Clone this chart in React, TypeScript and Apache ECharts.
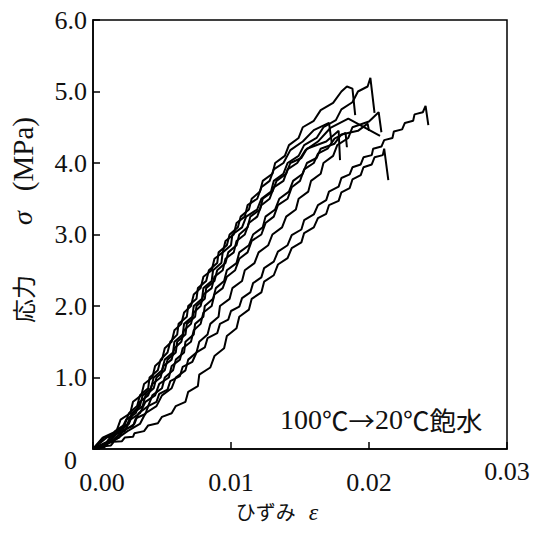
import React, { useEffect, useRef } from 'react';
import * as echarts from 'echarts';

// Tick labels
const xTickLabels = ['0.00', '0.01', '0.02', '0.03'];
const yTickLabels = ['0', '1.0', '2.0', '3.0', '4.0', '5.0', '6.0'];
const xAxisTitle = 'ひずみ';
const xAxisSymbol = 'ε';
const yAxisTitle = '応力';
const yAxisSymbol = 'σ';
const yAxisUnit = '(MPa)';
const annotationParts = ['100', '℃→', '20', '℃飽水'];

// Curves: [strain ×1e-4, stress ×0.01 MPa]
const curveA = [[0,0],[10,10],[16,25],[23,34],[26,50],[32,60],[34,75],[40,85],[41,100],[47,110],[49,125],[54,135],[56,150],[61,160],[62,175],[68,185],[69,200],[75,210],[76,225],[82,235],[84,250],[90,260],[91,275],[97,285],[99,300],[105,310],[107,325],[113,335],[115,350],[121,360],[123,375],[130,385],[132,400],[139,410],[142,425],[149,435],[152,450],[160,459],[165,474],[174,484],[180,500],[184,507],[188,504],[190,467]];
const curveB = [[0,0],[11,10],[18,25],[25,35],[28,50],[34,60],[36,75],[42,85],[44,100],[50,110],[52,125],[58,135],[59,150],[65,160],[66,175],[72,185],[73,200],[79,210],[80,225],[86,235],[87,250],[93,260],[94,275],[100,285],[101,300],[108,310],[111,325],[119,335],[122,350],[129,360],[131,375],[138,385],[141,400],[149,410],[153,425],[162,435],[167,450],[176,460],[180,475],[188,485],[192,500],[199,507],[201,519],[204,470]];
const curveH = [[0,0],[7,16],[17,25],[20,41],[27,50],[29,66],[35,75],[37,91],[43,100],[45,116],[50,125],[52,141],[57,150],[59,166],[64,175],[66,191],[71,200],[73,216],[78,225],[80,241],[86,250],[88,266],[94,275],[96,291],[102,300],[104,316],[110,325],[112,341],[119,350],[122,366],[128,375],[131,391],[138,400],[143,418],[152,430],[160,446],[171,456],[173,428]];
const curveT = [[0,0],[12,10],[19,25],[26,35],[29,50],[36,60],[38,75],[44,85],[46,100],[52,110],[54,125],[60,135],[61,150],[67,160],[68,175],[74,185],[75,200],[81,210],[82,225],[88,235],[90,250],[96,260],[98,275],[104,285],[106,300],[112,310],[114,325],[121,335],[123,350],[130,360],[133,375],[140,385],[143,400],[151,407],[155,420],[169,430],[178,445],[179,404]];
const curveF = [[0,0],[8,16],[20,25],[24,41],[31,50],[34,66],[40,75],[43,91],[49,100],[51,116],[57,125],[59,141],[64,150],[66,166],[71,175],[73,191],[78,200],[80,216],[86,225],[88,241],[94,250],[96,266],[102,275],[104,291],[110,300],[113,316],[119,325],[122,341],[128,350],[131,366],[138,375],[141,391],[148,400],[154,418],[163,430],[172,449],[185,462],[208,438]];
const curveG = [[0,0],[13,10],[22,25],[30,35],[33,50],[40,60],[43,75],[50,85],[52,100],[58,110],[60,125],[66,135],[67,150],[73,160],[74,175],[80,185],[81,200],[87,210],[89,225],[95,235],[97,250],[104,260],[106,275],[113,285],[116,300],[123,310],[125,325],[132,335],[135,350],[142,360],[145,375],[152,385],[155,400],[162,407],[165,420],[175,427],[180,440],[192,445],[199,455],[200,445]];
const curveM = [[0,0],[10,16],[23,25],[27,41],[34,50],[38,66],[45,75],[48,91],[55,100],[57,116],[63,125],[65,141],[71,150],[73,166],[78,175],[80,191],[86,200],[88,216],[94,225],[97,241],[103,250],[106,266],[112,275],[115,291],[122,300],[125,316],[131,325],[134,341],[141,350],[144,366],[150,375],[153,391],[160,400],[163,413],[170,420],[175,434],[183,442],[184,422]];
const curveC = [[0,0],[14,10],[25,25],[34,35],[38,50],[46,60],[50,75],[57,85],[60,100],[67,110],[69,125],[75,135],[77,150],[83,160],[85,175],[91,185],[92,200],[99,210],[101,225],[108,235],[110,250],[117,260],[120,275],[127,285],[130,300],[137,310],[140,325],[147,335],[149,350],[156,360],[158,375],[165,385],[167,400],[174,410],[177,425],[185,435],[188,450],[200,458],[207,471],[209,443]];
const curveD = [[0,0],[8,2],[12,10],[19,16],[22,27],[29,32],[31,43],[38,49],[40,60],[46,66],[48,77],[54,83],[56,95],[63,102],[65,115],[72,122],[75,135],[81,142],[83,155],[90,162],[92,175],[98,181],[100,193],[106,199],[108,211],[114,219],[116,232],[122,240],[124,253],[131,262],[134,276],[141,285],[144,299],[151,307],[153,320],[160,328],[163,341],[169,348],[171,360],[178,367],[180,379],[186,384],[188,394],[194,398],[196,408],[202,411],[203,420],[209,423],[211,432],[217,435],[218,444],[224,447],[226,456],[232,459],[233,468],[239,471],[241,480],[243,453]];
const curveE = [[0,0],[8,4],[13,5],[15,10],[21,11],[23,16],[29,17],[30,22],[37,25],[40,33],[47,36],[50,45],[57,50],[60,60],[67,66],[69,80],[76,88],[77,104],[85,114],[88,130],[95,141],[97,158],[104,169],[106,185],[113,195],[115,210],[122,219],[124,234],[131,243],[134,258],[141,267],[144,281],[151,289],[153,302],[160,310],[163,323],[169,329],[171,341],[178,347],[180,359],[186,365],[188,377],[194,383],[196,394],[202,398],[204,408],[210,411],[211,420],[214,376]];

const curves = [curveA, curveB, curveH, curveT, curveF, curveG, curveM, curveC, curveD, curveE];
const STRAIN_UNIT = 1e-4;
const STRESS_UNIT = 0.01;

const SERIF = "'Liberation Serif', 'Times New Roman', serif";
const CJK = "'Noto Sans CJK JP', sans-serif";
const INK = '#111';

export default function App() {
  const ref = useRef<HTMLDivElement>(null);
  useEffect(() => {
    if (!ref.current) return;
    const chart = echarts.init(ref.current, undefined, { renderer: 'svg' });
    const series = curves.map((c, i) => ({
      type: 'line',
      name: 'curve' + (i + 1),
      data: c.map(([e, s]) => [e * STRAIN_UNIT, s * STRESS_UNIT]),
      showSymbol: false,
      symbol: 'none',
      lineStyle: { color: '#000', width: 2 },
      z: 3,
    }));
    const tick = (extra: any = {}) => ({ fontFamily: SERIF, fontSize: 26, color: INK, ...extra });
    chart.setOption({
      animation: false,
      backgroundColor: '#fff',
      textStyle: { fontFamily: SERIF },
      grid: {
        left: 91, top: 20, width: 416, height: 429,
        show: true, borderColor: '#000', borderWidth: 1.5, backgroundColor: 'transparent',
      },
      xAxis: {
        type: 'value', min: 0, max: 0.03, interval: 0.01,
        axisLine: { show: true, lineStyle: { color: '#000', width: 1.5 } },
        axisTick: { show: true, inside: true, length: 7, lineStyle: { color: '#000', width: 1.5 } },
        splitLine: { show: false },
        axisLabel: {
          margin: 2,
          color: INK, fontFamily: SERIF, fontSize: 26,
          formatter: (v: number) => {
            const i = Math.round(v / 0.01);
            const t = xTickLabels[i];
            if (i === 0) return '{z|' + t + '}';
            if (i === 3) return '{h|' + t + '}';
            return '{n|' + t + '}';
          },
          rich: {
            n: tick({ padding: [18, 0, 0, 0] }),
            z: tick({ padding: [18, 0, 0, 18] }),
            h: tick({ padding: [7, 0, 0, 0] }),
          },
        },
        name: '{h|' + xAxisTitle + '}{e|' + xAxisSymbol + '}',
        nameLocation: 'middle',
        nameGap: 44,
        nameTextStyle: {
          padding: [0, 46, 0, 0],
          rich: {
            h: { fontFamily: CJK, fontSize: 20, color: INK, padding: [0, 13, 0, 0] },
            e: { fontFamily: SERIF, fontStyle: 'italic', fontSize: 24, color: INK },
          },
        },
      },
      yAxis: {
        type: 'value', min: 0, max: 6, interval: 1,
        axisLine: { show: true, lineStyle: { color: '#000', width: 1.5 } },
        axisTick: { show: true, inside: true, length: 7, lineStyle: { color: '#000', width: 1.5 } },
        splitLine: { show: false },
        axisLabel: {
          margin: 6,
          color: INK, fontFamily: SERIF, fontSize: 26,
          formatter: (v: number) => {
            const i = Math.round(v);
            const t = yTickLabels[i];
            if (i === 0) return '{z|' + t + '}';
            return '{n|' + t + '}';
          },
          rich: {
            n: tick(),
            z: tick({ padding: [22, 10, 0, 0] }),
          },
        },
        name: '{c|' + yAxisTitle + '}{g|' + yAxisSymbol + '}{m|' + yAxisUnit + '}',
        nameLocation: 'middle',
        nameRotate: 90,
        nameGap: 56,
        nameTextStyle: {
          padding: [0, 0, 0, 29],
          rich: {
            c: { fontFamily: CJK, fontSize: 24, color: INK, padding: [0, 50, 0, 0] },
            g: { fontFamily: SERIF, fontStyle: 'italic', fontSize: 28, color: INK, padding: [0, 20, 0, 0] },
            m: { fontFamily: SERIF, fontSize: 29, color: INK },
          },
        },
      },
      graphic: [
        {
          type: 'text', left: 280, top: 405, z: 10,
          style: {
            text: '{d|' + annotationParts[0] + '}{c|' + annotationParts[1] + '}{d|' + annotationParts[2] + '}{c|' + annotationParts[3] + '}',
            rich: {
              d: { fontFamily: SERIF, fontSize: 28, fill: INK },
              c: { fontFamily: CJK, fontSize: 26.5, fill: INK },
            },
          },
        },
      ],
      series,
    });
    return () => chart.dispose();
  }, []);
  return <div ref={ref} style={{ position: 'absolute', left: 0, top: 0, width: 534, height: 533 }} />;
}
